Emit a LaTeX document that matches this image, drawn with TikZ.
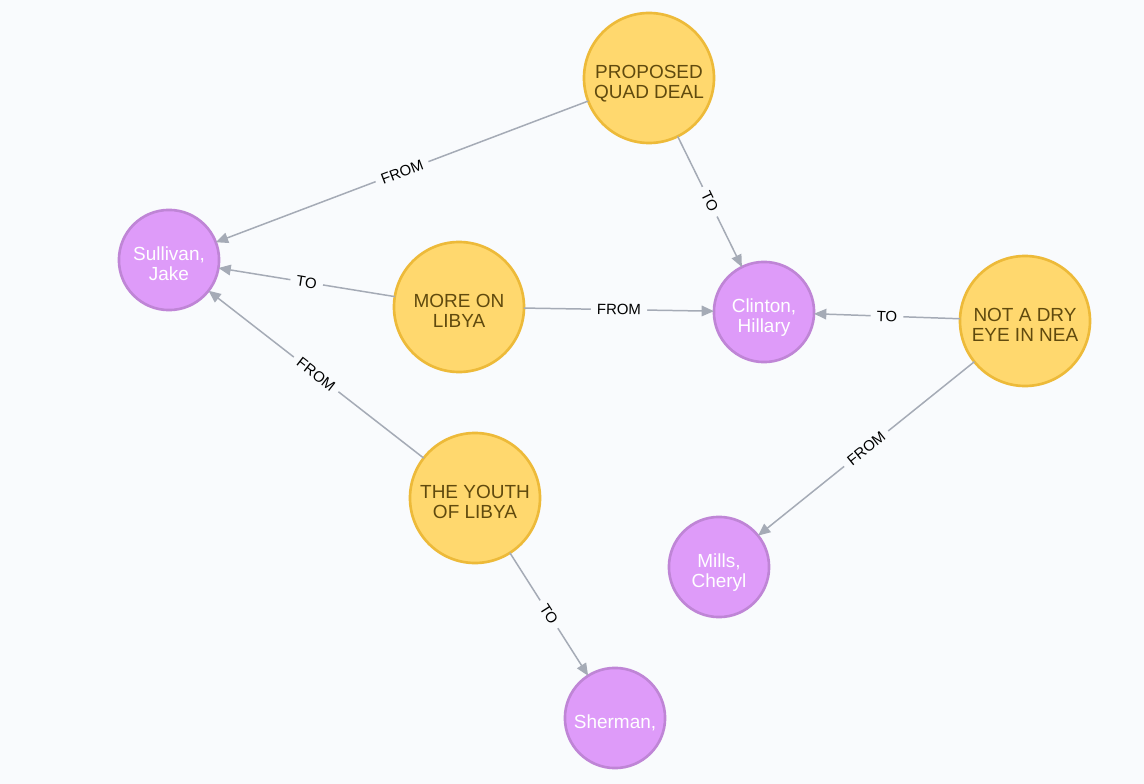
\documentclass[tikz,border=0pt]{standalone}
\usepackage{fontspec}
\setmainfont{Liberation Sans}
\usetikzlibrary{arrows.meta}
\definecolor{bg}{HTML}{F9FBFD}
\definecolor{yfill}{HTML}{FFD86E}
\definecolor{ydraw}{HTML}{EDBA39}
\definecolor{ytext}{HTML}{604A0E}
\definecolor{pfill}{HTML}{DE9BF9}
\definecolor{pdraw}{HTML}{BF85D6}
\definecolor{edge}{HTML}{A5ABB6}
\newcommand{\twoline}[2]{\raisebox{0pt}[\dimexpr\height+7pt\relax][\depth]{\begin{tabular}{@{}c@{}}#1\\#2\end{tabular}}}
\newcommand{\oneline}[1]{\raisebox{0pt}[\dimexpr\height+5.2pt\relax][\depth]{#1}}
\tikzset{
  ynode/.style={circle, fill=yfill, draw=ydraw, line width=1.5pt, minimum size=74pt, inner sep=0pt, outer sep=0pt, text=ytext, font=\fontsize{10.8}{11.4}\selectfont},
  pnode/.style={circle, fill=pfill, draw=pdraw, line width=1.5pt, minimum size=57pt, inner sep=0pt, outer sep=0pt, text=white, font=\fontsize{10.8}{11.4}\selectfont},
  rel/.style={draw=edge, line width=0.85pt, -{Triangle[length=7pt,width=6pt]}},
  rlab/.style={midway, sloped, fill=bg, inner xsep=3.5pt, inner ysep=1pt, text=black, font=\fontsize{8.5}{9}\selectfont},
}
\begin{document}
\begin{tikzpicture}[x=0.02cm,y=-0.02cm]
\fill[bg] (0,0) rectangle (1144,784);
\useasboundingbox (0,0) rectangle (1144,784);
\node[ynode] (q) at (649,78) {\twoline{PROPOSED}{QUAD DEAL}};
\node[pnode] (s) at (169,260) {\twoline{Sullivan,}{Jake}};
\node[ynode] (m) at (459,307) {\twoline{MORE ON}{LIBYA}};
\node[pnode] (c) at (764,312) {\twoline{Clinton,}{Hillary}};
\node[ynode] (n) at (1025,321) {\twoline{NOT A DRY}{EYE IN NEA}};
\node[ynode] (y) at (475,498) {\twoline{THE YOUTH}{OF LIBYA}};
\node[pnode] (mi) at (719,567) {\twoline{Mills,}{Cheryl}};
\node[pnode] (sh) at (615,718) {\oneline{Sherman,}};
\path[rel] (q) -- node[rlab] {FROM} (s);
\path[rel] (q) -- node[rlab] {TO} (c);
\path[rel] (m) -- node[rlab] {TO} (s);
\path[rel] (m) -- node[rlab] {FROM} (c);
\path[rel] (n) -- node[rlab] {TO} (c);
\path[rel] (n) -- node[rlab] {FROM} (mi);
\path[rel] (y) -- node[rlab] {FROM} (s);
\path[rel] (y) -- node[rlab] {TO} (sh);
\end{tikzpicture}
\end{document}
